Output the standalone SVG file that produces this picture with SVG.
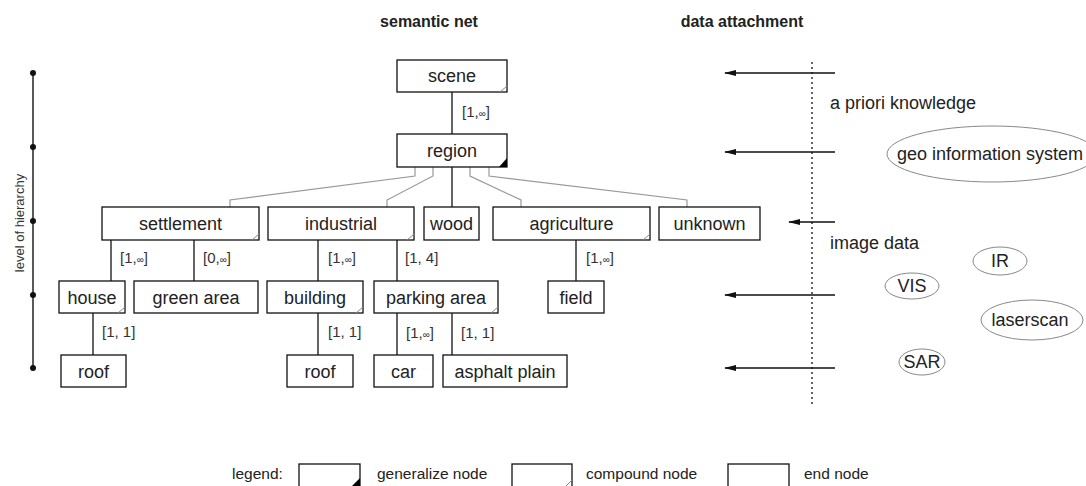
<svg xmlns="http://www.w3.org/2000/svg" width="1086" height="486" viewBox="0 0 1086 486">
<style>
.box{fill:#fff;stroke:#111;stroke-width:1.3}
.t{font-family:"Liberation Sans",Arial,sans-serif;font-size:18px;fill:#222;text-anchor:middle}
.lbl{font-family:"Liberation Sans",Arial,sans-serif;font-size:15px;fill:#333}
.inf{font-size:10px}
.hd{font-family:"Liberation Sans",Arial,sans-serif;font-size:16px;font-weight:bold;fill:#222;text-anchor:middle}
.side{font-family:"Liberation Sans",Arial,sans-serif;font-size:18px;fill:#222}
.leg{font-family:"Liberation Sans",Arial,sans-serif;font-size:15.5px;fill:#222}
.cm{stroke:#888;stroke-width:1;fill:none}
.gen{fill:#000}
.con{stroke:#111;stroke-width:1.3;fill:none}
.gray{stroke:#999;stroke-width:1.2;fill:none}
.ell{fill:none;stroke:#888;stroke-width:1}
.arr{stroke:#111;stroke-width:1.4;fill:none;marker-end:url(#ah)}
</style>
<defs>
<marker id="ah" markerWidth="12" markerHeight="8" refX="11" refY="4" orient="auto" markerUnits="userSpaceOnUse">
<path d="M0,1 L12,4 L0,7 Z" fill="#111"/>
</marker>
</defs>

<text class="hd" x="429" y="27">semantic net</text>
<text class="hd" x="742" y="27">data attachment</text>

<g id="hierarchy-axis">
<line x1="33" y1="73" x2="33" y2="368" stroke="#222" stroke-width="1.5"/>
<circle cx="33" cy="73" r="3" fill="#111"/>
<circle cx="33" cy="147" r="3" fill="#111"/>
<circle cx="33" cy="221" r="3" fill="#111"/>
<circle cx="33" cy="295" r="3" fill="#111"/>
<circle cx="33" cy="368" r="3" fill="#111"/>
<text transform="translate(24,223) rotate(-90)" text-anchor="middle" font-family="Liberation Sans, Arial, sans-serif" font-size="13" fill="#333">level of hierarchy</text>
</g>

<g id="connectors">
<line class="con" x1="452" y1="92" x2="452" y2="134"/>
<polyline class="gray" points="415,167 415,176 230,200 230,207"/>
<polyline class="gray" points="433,167 433,176 387,200 387,207"/>
<line class="con" x1="452" y1="167" x2="452" y2="207"/>
<polyline class="gray" points="470,167 470,176 521,200 521,207"/>
<polyline class="gray" points="489,167 489,176 687,200 687,207"/>
<line class="con" x1="111" y1="240" x2="111" y2="281"/>
<line class="con" x1="194" y1="240" x2="194" y2="281"/>
<line class="con" x1="318" y1="240" x2="318" y2="281"/>
<line class="con" x1="397" y1="240" x2="397" y2="281"/>
<line class="con" x1="576" y1="240" x2="576" y2="281"/>
<line class="con" x1="93" y1="313" x2="93" y2="355"/>
<line class="con" x1="318" y1="313" x2="318" y2="355"/>
<line class="con" x1="397" y1="313" x2="397" y2="355"/>
<line class="con" x1="452" y1="313" x2="452" y2="355"/>
<text class="lbl" x="462" y="117">[1,<tspan class="inf">∞</tspan>]</text>
<text class="lbl" x="120" y="263">[1,<tspan class="inf">∞</tspan>]</text>
<text class="lbl" x="203" y="263">[0,<tspan class="inf">∞</tspan>]</text>
<text class="lbl" x="328" y="263">[1,<tspan class="inf">∞</tspan>]</text>
<text class="lbl" x="405" y="263">[1, 4]</text>
<text class="lbl" x="586" y="263">[1,<tspan class="inf">∞</tspan>]</text>
<text class="lbl" x="102" y="337">[1, 1]</text>
<text class="lbl" x="328" y="337">[1, 1]</text>
<text class="lbl" x="406" y="338">[1,<tspan class="inf">∞</tspan>]</text>
<text class="lbl" x="461" y="338">[1, 1]</text>
</g>

<g id="scene"><rect class="box" x="397" y="60" width="110" height="32"/><path class="cm" d="M500,92 L507,86"/><text class="t" x="452" y="82">scene</text></g>
<g id="region"><rect class="box" x="397" y="134" width="110" height="33"/><path class="gen" d="M499,167 L507,167 L507,158 Z"/><text class="t" x="452" y="157">region</text></g>
<g id="settlement"><rect class="box" x="102" y="207" width="157" height="33"/><path class="cm" d="M252,240 L259,234"/><text class="t" x="180.5" y="230">settlement</text></g>
<g id="industrial"><rect class="box" x="268" y="207" width="146" height="33"/><path class="cm" d="M407,240 L414,234"/><text class="t" x="341" y="230">industrial</text></g>
<g id="wood"><rect class="box" x="424" y="207" width="55" height="33"/><text class="t" x="451.5" y="230">wood</text></g>
<g id="agriculture"><rect class="box" x="493" y="207" width="157" height="33"/><path class="cm" d="M643,240 L650,234"/><text class="t" x="571.5" y="230">agriculture</text></g>
<g id="unknown"><rect class="box" x="659" y="207" width="101" height="33"/><text class="t" x="709.5" y="230">unknown</text></g>
<g id="house"><rect class="box" x="59" y="281" width="66" height="32"/><path class="cm" d="M118,313 L125,307"/><text class="t" x="92" y="304">house</text></g>
<g id="green-area"><rect class="box" x="134" y="281" width="124" height="32"/><text class="t" x="196" y="304">green area</text></g>
<g id="building"><rect class="box" x="267" y="281" width="96" height="32"/><path class="cm" d="M356,313 L363,307"/><text class="t" x="315" y="304">building</text></g>
<g id="parking-area"><rect class="box" x="374" y="281" width="124" height="32"/><path class="cm" d="M491,313 L498,307"/><text class="t" x="436" y="304">parking area</text></g>
<g id="field"><rect class="box" x="548" y="281" width="56" height="32"/><text class="t" x="576" y="304">field</text></g>
<g id="roof-1"><rect class="box" x="61" y="355" width="65" height="32"/><text class="t" x="93.5" y="378">roof</text></g>
<g id="roof-2"><rect class="box" x="287" y="355" width="66" height="32"/><text class="t" x="320" y="378">roof</text></g>
<g id="car"><rect class="box" x="374" y="355" width="59" height="32"/><text class="t" x="403.5" y="378">car</text></g>
<g id="asphalt-plain"><rect class="box" x="443" y="355" width="124" height="32"/><text class="t" x="505" y="378">asphalt plain</text></g>

<g id="data-attachment">
<line x1="812" y1="62" x2="812" y2="405" stroke="#111" stroke-width="1.3" stroke-dasharray="2,3"/>
<line class="arr" x1="835" y1="73" x2="725" y2="73"/>
<line class="arr" x1="835" y1="152" x2="725" y2="152"/>
<line class="arr" x1="835" y1="222" x2="789" y2="222"/>
<line class="arr" x1="835" y1="295" x2="725" y2="295"/>
<line class="arr" x1="835" y1="368" x2="725" y2="368"/>
<text class="side" x="830" y="109">a priori knowledge</text>
<text class="side" x="830" y="249">image data</text>
</g>

<g id="geo-information-system"><ellipse class="ell" cx="992" cy="154" rx="105" ry="28"/><text class="t" x="990" y="160">geo information system</text></g>
<g id="IR"><ellipse class="ell" cx="1000" cy="261" rx="27" ry="14"/><text class="t" x="1000" y="267">IR</text></g>
<g id="VIS"><ellipse class="ell" cx="912" cy="286" rx="27" ry="13"/><text class="t" x="912" y="292">VIS</text></g>
<g id="laserscan"><ellipse class="ell" cx="1032" cy="320" rx="51" ry="20"/><text class="t" x="1030" y="326">laserscan</text></g>
<g id="SAR"><ellipse class="ell" cx="922" cy="362" rx="23" ry="13"/><text class="t" x="922" y="368">SAR</text></g>

<g id="legend">
<text class="leg" x="232" y="479">legend:</text>
<rect class="box" x="299" y="464" width="61" height="24"/>
<path class="gen" d="M352,486 L360,486 L360,478 Z"/>
<text class="leg" x="377" y="479">generalize node</text>
<rect class="box" x="512" y="464" width="60" height="24"/>
<path class="cm" d="M566,486 L572,480"/>
<text class="leg" x="586" y="479">compound node</text>
<rect class="box" x="728" y="464" width="61" height="24"/>
<text class="leg" x="804" y="479">end node</text>
</g>
</svg>
